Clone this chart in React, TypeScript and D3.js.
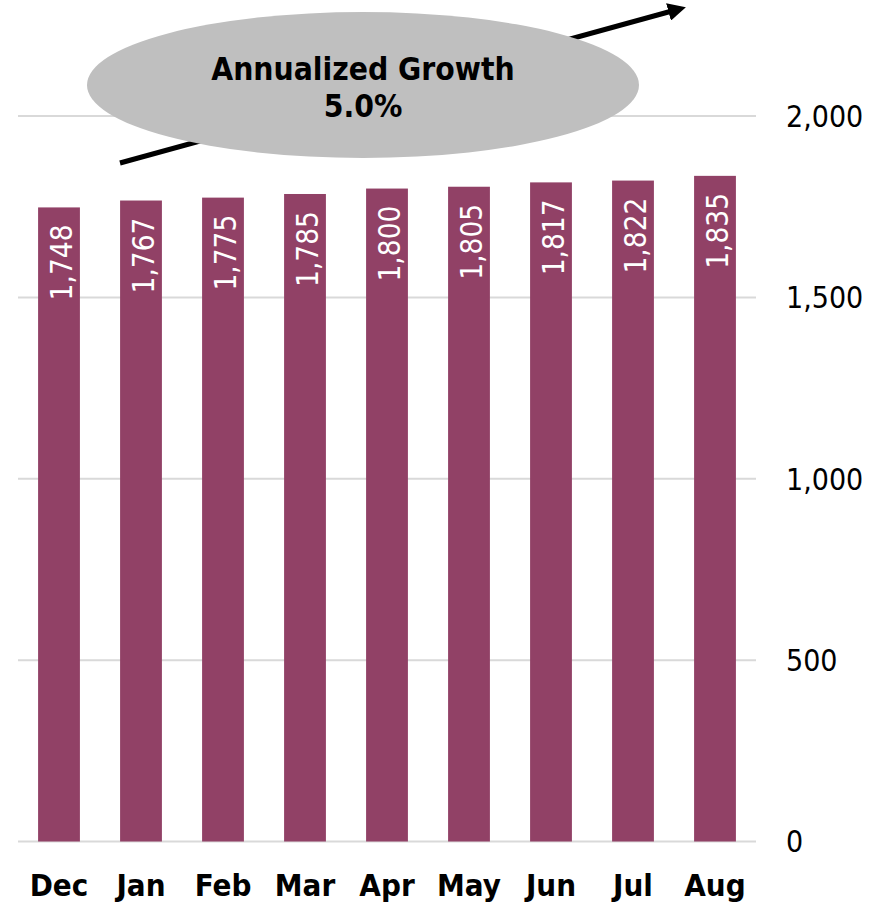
import React from "react";
import * as d3 from "d3";

const categories = ["Dec", "Jan", "Feb", "Mar", "Apr", "May", "Jun", "Jul", "Aug"];
const values = [1748, 1767, 1775, 1785, 1800, 1805, 1817, 1822, 1835];
const yTicks = [0, 500, 1000, 1500, 2000];
const calloutLines = ["Annualized Growth", "5.0%"];

const W = 881;
const H = 902;
const FONT = "'DejaVu Sans Condensed', 'DejaVu Sans', Verdana, sans-serif";

export default function App() {
  const x = d3.scaleBand<string>().domain(categories).range([18, 756]).paddingInner(0.49).paddingOuter(0.245);
  const y = d3.scaleLinear().domain([0, 2000]).range([841.5, 116]);
  const fmt = d3.format(",");

  return (
    <svg width={W} height={H} style={{ position: "absolute", left: 0, top: 0 }} fontFamily={FONT} fontStretch="condensed">
      <defs>
        <marker id="ah" viewBox="0 0 10 10" refX="2" refY="5" markerWidth="3.6" markerHeight="3.6" orient="auto" markerUnits="strokeWidth">
          <path d="M0,0 L10,5 L0,10 z" fill="#000" />
        </marker>
      </defs>
      {yTicks.map((t) => (
        <g key={t}>
          <line x1={18} x2={756} y1={y(t)} y2={y(t)} stroke="#d9d9d9" strokeWidth={2} />
          <text x={786} y={y(t)} dy="0.36em" fontSize={30} fill="#000">{fmt(t)}</text>
        </g>
      ))}
      {categories.map((c, i) => {
        const bx = x(c)!;
        const by = y(values[i]);
        return (
          <g key={c}>
            <rect x={bx} y={by} width={x.bandwidth()} height={y(0) - by} fill="#914166" />
            <text
              transform={`translate(${bx + x.bandwidth() / 2},${by + 17}) rotate(-90)`}
              textAnchor="end"
              dy={13}
              fontSize={29.5}
              fill="#fff"
            >
              {fmt(values[i])}
            </text>
            <text x={bx + x.bandwidth() / 2} y={896} textAnchor="middle" fontSize={31} fontWeight="bold" fill="#000">
              {c}
            </text>
          </g>
        );
      })}
      <line x1={120} y1={163} x2={672} y2={11} stroke="#000" strokeWidth={5} markerEnd="url(#ah)" />
      <ellipse cx={363} cy={85} rx={276} ry={73} fill="#bfbfbf" />
      <text x={363} y={80} textAnchor="middle" fontSize={31.5} fontWeight="bold" fill="#000">{calloutLines[0]}</text>
      <text x={363} y={117} textAnchor="middle" fontSize={31.5} fontWeight="bold" fill="#000">{calloutLines[1]}</text>
    </svg>
  );
}
